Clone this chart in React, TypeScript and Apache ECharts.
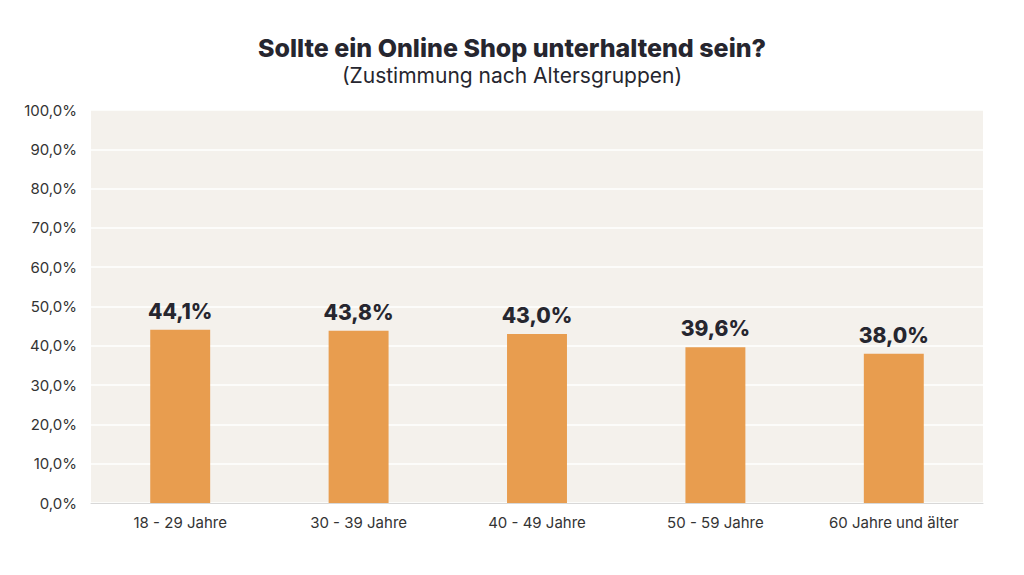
import React, { useEffect, useRef } from "react";
import * as echarts from "echarts";

const categories = ["18 - 29 Jahre", "30 - 39 Jahre", "40 - 49 Jahre", "50 - 59 Jahre", "60 Jahre und älter"];
const values = [44.1, 43.8, 43.0, 39.6, 38.0];
const titleText = "Sollte ein Online Shop unterhaltend sein?";
const subtitleText = "(Zustimmung nach Altersgruppen)";

const fmt = (v: number) => v.toFixed(1).replace(".", ",") + "%";

export default function App() {
  const ref = useRef<HTMLDivElement>(null);
  useEffect(() => {
    if (!ref.current) return;
    const chart = echarts.init(ref.current, undefined, { renderer: "svg" });
    chart.setOption({
      animation: false,
      backgroundColor: "#ffffff",
      textStyle: { fontFamily: "Inter, 'Noto Sans', sans-serif" },
      title: {
        text: titleText,
        subtext: subtitleText,
        left: "center",
        top: 30,
        itemGap: 5,
        textStyle: { fontSize: 25, fontWeight: 800, color: "#26262f", fontFamily: "Inter, sans-serif" },
        subtextStyle: { fontSize: 21, color: "#26262f", fontFamily: "Inter, sans-serif" },
      },
      grid: {
        left: 91,
        right: 41,
        top: 110,
        bottom: 72,
        show: true,
        backgroundColor: "#f4f1ec",
        borderWidth: 0,
      },
      xAxis: {
        type: "category",
        data: categories,
        axisLine: { show: true, lineStyle: { color: "#d8d8d8", width: 1 } },
        axisTick: { show: false },
        axisLabel: { color: "#333333", fontSize: 15, margin: 12 },
      },
      yAxis: {
        type: "value",
        min: 0,
        max: 100,
        interval: 10,
        axisLine: { show: false },
        axisTick: { show: false },
        splitLine: { show: true, lineStyle: { color: "#ffffff", width: 1.5 } },
        axisLabel: { color: "#333333", fontSize: 15, margin: 14, formatter: (v: number) => fmt(v) },
      },
      series: [
        {
          type: "bar",
          data: values,
          barWidth: "33.6%",
          itemStyle: { color: "#e89d4f" },
          label: {
            show: true,
            position: "top",
            distance: 8,
            formatter: (p: any) => fmt(p.value),
            fontSize: 21,
            fontWeight: 800,
            color: "#26262f",
          },
        },
      ],
    });
    return () => chart.dispose();
  }, []);
  return <div ref={ref} style={{ width: 1024, height: 575, position: "absolute", left: 0, top: 0 }} />;
}
